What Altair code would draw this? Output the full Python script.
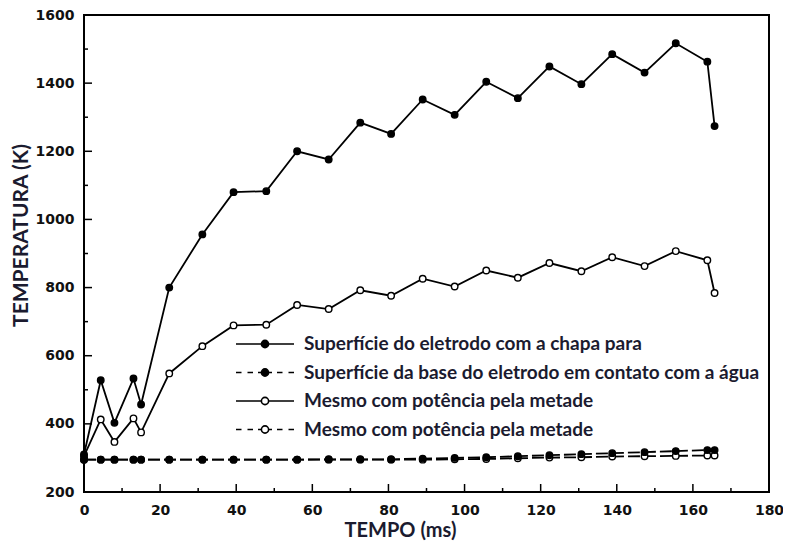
import json
import altair as alt
import pandas as pd

# ---------------- data ----------------
tempo = [0, 4.4, 8.0, 13.0, 15.0, 22.4, 31.1, 39.3, 47.9, 56.0, 64.3, 72.6, 80.7,
         89.0, 97.4, 105.7, 114.0, 122.3, 130.7, 138.8, 147.3, 155.5, 163.8, 165.7]
s1 = [310, 528, 403, 533, 457, 800, 956, 1080, 1083, 1200, 1176, 1284, 1251,
      1352, 1307, 1404, 1356, 1449, 1397, 1485, 1431, 1517, 1463, 1274]
s2 = [295, 295, 295, 295, 295, 295, 295, 295, 295, 295, 296, 296, 296,
      298, 300, 302, 305, 308, 311, 314, 317, 320, 323, 323]
s3 = [305, 413, 347, 416, 375, 548, 628, 689, 691, 749, 737, 792, 776,
      826, 803, 850, 829, 872, 848, 889, 863, 907, 880, 784]
s4 = [295, 295, 295, 295, 295, 295, 295, 295, 295, 295, 295, 295, 295,
      295, 296, 297, 299, 301, 302, 304, 305, 306, 307, 307]

keys = ["s1", "s2", "s3", "s4"]
labels = [
    "Superfície do eletrodo com a chapa para",
    "Superfície da base do eletrodo em contato com a água",
    "Mesmo com potência pela metade",
    "Mesmo com potência pela metade",
]
x_major = [0, 20, 40, 60, 80, 100, 120, 140, 160, 180]
x_minor = [10, 30, 50, 70, 90, 110, 130, 150, 170]
y_major = [200, 400, 600, 800, 1000, 1200, 1400, 1600]
y_minor = [300, 500, 700, 900, 1100, 1300, 1500]

# ---------------- tables ----------------
rows = []
for k, vals in zip(keys, [s1, s2, s3, s4]):
    for t, v in zip(tempo, vals):
        rows.append({"t": t, "T": v, "serie": k})
df = pd.DataFrame(rows)
# legend-only layer: one row per series, drawn with zero size
leg_df = pd.DataFrame({"serie": keys, "t": [tempo[0]] * 4, "T": [s2[0]] * 4})

W, H = 685, 477
TXT = "#1b1b2f"

# legend symbols: line + circle drawn as custom paths (unit = 10px)
circ = "M-0.36,0A0.36,0.36 0 1,0 0.36,0A0.36,0.36 0 1,0 -0.36,0Z"
solid_p = "M-2.9,0H-0.36M0.36,0H2.9" + circ
dash_p = ("M-2.9,0H-2.35M-1.75,0H-1.2M-0.7,0H-0.36"
          "M0.36,0H0.7M1.2,0H1.75M2.35,0H2.9" + circ)
paths = [solid_p, dash_p, solid_p, dash_p]

X = alt.X("t:Q", scale=alt.Scale(domain=[0, 180], nice=False),
          axis=alt.Axis(values=x_major, ticks=False, domain=False, grid=False,
                        format="d",
                        labelFont="DejaVu Sans", labelFontWeight="bold",
                        labelFontSize=14, labelColor="#111", labelPadding=11,
                        labelFlush=False,
                        title="TEMPO (ms)", titleFont="Lato", titleFontSize=20,
                        titleFontWeight="bold", titleColor=TXT,
                        titleX=316, titleY=44, titleBaseline="alphabetic",
                        titleAlign="center"))
Y = alt.Y("T:Q", scale=alt.Scale(domain=[200, 1600], nice=False),
          axis=alt.Axis(values=y_major, ticks=False, domain=False, grid=False,
                        format="d",
                        labelFont="DejaVu Sans", labelFontWeight="bold",
                        labelFontSize=14, labelColor="#111", labelPadding=10,
                        labelFlush=False,
                        title="TEMPERATURA (K)", titleFont="Lato", titleFontSize=21,
                        titleFontWeight="bold", titleColor=TXT,
                        titleAngle=270, titleX=-63, titleY=220,
                        titleBaseline="middle", titleAlign="center"))

fill_scale = alt.Scale(domain=keys, range=["black", "black", "white", "white"])
shape_scale = alt.Scale(domain=keys, range=paths)


def only(sel):
    return alt.FieldOneOfPredicate(field="serie", oneOf=sel)


solid_lines = alt.Chart(df).transform_filter(only(["s1", "s3"])).mark_line(
    color="black", strokeWidth=1.8).encode(x=X, y=Y, detail="serie:N")
dashed_lines = alt.Chart(df).transform_filter(only(["s2", "s4"])).mark_line(
    color="black", strokeWidth=1.8, strokeDash=[12, 4]).encode(
    x=X, y=Y, detail="serie:N")
open_pts = alt.Chart(df).transform_filter(only(["s3", "s4"])).mark_point(
    shape="circle", size=42, stroke="black", fill="white", filled=True,
    strokeWidth=1.4, opacity=1).encode(x=X, y=Y)
full_pts = alt.Chart(df).transform_filter(only(["s1", "s2"])).mark_point(
    shape="circle", size=42, stroke="black", fill="black", filled=True,
    strokeWidth=1.4, opacity=1).encode(x=X, y=Y)

label_expr = (f"{json.dumps(labels, ensure_ascii=False)}"
              f"[indexof({json.dumps(keys)}, datum.value)]")
legend = alt.Legend(orient="none", legendX=170, legendY=318, title=None,
                    symbolSize=400, symbolStrokeWidth=1.6, symbolOffset=0,
                    labelOffset=28, labelFont="Lato", labelFontSize=19,
                    labelFontWeight="bold",
                    labelColor=TXT, labelLimit=800, rowPadding=7.5, padding=0,
                    labelExpr=label_expr, direction="vertical")
legend_layer = alt.Chart(leg_df).mark_point(stroke="black", strokeWidth=1.6,
                                            size=0, opacity=1).encode(
    x=X, y=Y,
    shape=alt.Shape("serie:N", scale=shape_scale, legend=legend),
    fill=alt.Fill("serie:N", scale=fill_scale, legend=legend),
)

xt_major = alt.Chart(pd.DataFrame({"t": x_major})).mark_rule(
    color="black", strokeWidth=1.5).encode(x=X, y=alt.value(H), y2=alt.value(H - 8))
xt_minor = alt.Chart(pd.DataFrame({"t": x_minor})).mark_rule(
    color="black", strokeWidth=1.5).encode(x=X, y=alt.value(H), y2=alt.value(H - 4))
yt_major = alt.Chart(pd.DataFrame({"T": y_major})).mark_rule(
    color="black", strokeWidth=1.5).encode(y=Y, x=alt.value(0), x2=alt.value(8))
yt_minor = alt.Chart(pd.DataFrame({"T": y_minor})).mark_rule(
    color="black", strokeWidth=1.5).encode(y=Y, x=alt.value(0), x2=alt.value(4))

chart = alt.layer(xt_major, xt_minor, yt_major, yt_minor, solid_lines,
                  dashed_lines, open_pts, full_pts, legend_layer).properties(
    width=W, height=H,
    autosize=alt.AutoSizeParams(type="none"),
    padding={"left": 76, "top": 7, "right": 14, "bottom": 50},
    background="white",
).configure_view(stroke="black", strokeWidth=2)

chart.save("out.html", embed_options={"renderer": "svg", "actions": False})
